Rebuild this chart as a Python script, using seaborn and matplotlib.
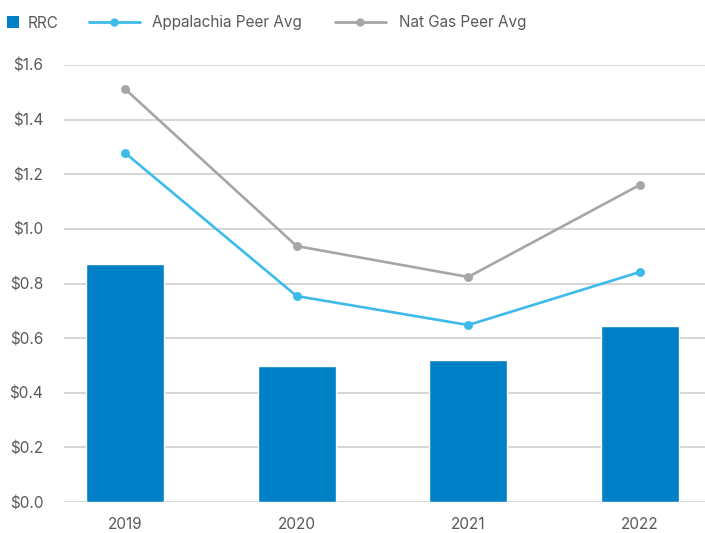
import matplotlib
matplotlib.use("Agg")
import matplotlib.pyplot as plt
import seaborn as sns
import numpy as np
import pandas as pd
from matplotlib.lines import Line2D
from matplotlib.patches import Patch

years = ["2019", "2020", "2021", "2022"]
rrc = [0.871, 0.498, 0.520, 0.644]
appalachia = [1.278, 0.754, 0.648, 0.842]
natgas = [1.512, 0.937, 0.824, 1.161]
yticks = [0.0, 0.2, 0.4, 0.6, 0.8, 1.0, 1.2, 1.4, 1.6]
ytick_labels = ["$0.0", "$0.2", "$0.4", "$0.6", "$0.8", "$1.0", "$1.2", "$1.4", "$1.6"]

C_BAR = "#0080C6"
C_APP = "#3DBBEB"
C_GAS = "#A6A6A6"
C_TXT = "#595959"
C_GRID = "#D0D0D0"

sns.set_theme(style="white")
plt.rcParams["font.family"] = ["Inter", "DejaVu Sans"]

FS_TICK = 11
FS_LEG = 11

fig = plt.figure(figsize=(7.05, 5.33), dpi=100)
ax = fig.add_axes([64 / 705, 1 - 502 / 533, 1 - 64 / 705, (502 - 65) / 533])

df = pd.DataFrame({"year": years, "rrc": rrc, "app": appalachia, "gas": natgas})

sns.barplot(data=df, x="year", y="rrc", color=C_BAR, saturation=1, width=0.455, ax=ax, zorder=2)
sns.pointplot(data=df, x="year", y="gas", color=C_GAS, markers="o", linestyles="-",
              markersize=5, linewidth=1.9, ax=ax, zorder=3)
sns.pointplot(data=df, x="year", y="app", color=C_APP, markers="o", linestyles="-",
              markersize=5, linewidth=1.9, ax=ax, zorder=4)

ax.set_ylim(0, 1.6)
ax.set_xlim(-0.356, 3.38)
ax.set_yticks(yticks)
ax.set_yticklabels(ytick_labels)
ax.set_xlabel("")
ax.set_ylabel("")
for s in ax.spines.values():
    s.set_visible(False)
ax.grid(axis="y", color=C_GRID, linewidth=1.2, zorder=0)
ax.set_axisbelow(True)
ax.tick_params(axis="y", length=0, pad=15, labelsize=FS_TICK, labelcolor=C_TXT)
ax.tick_params(axis="x", length=0, pad=11, labelsize=FS_TICK, labelcolor=C_TXT)
for t in ax.get_yticklabels() + ax.get_xticklabels():
    t.set_clip_on(False)

ly = 1 - 23 / 533
common = dict(frameon=False, fontsize=FS_LEG, labelcolor=C_TXT, borderpad=0, borderaxespad=0,
              loc="center left")
fig.legend(handles=[Patch(facecolor=C_BAR, edgecolor="none")], labels=["RRC"],
           handlelength=0.78, handleheight=0.78, handletextpad=0.59,
           bbox_to_anchor=(7 / 705, ly), **common)
fig.legend(handles=[Line2D([], [], color=C_APP, lw=2.0, marker="o", markersize=5)],
           labels=["Appalachia Peer Avg"], handlelength=3.33, handletextpad=0.8,
           bbox_to_anchor=(89 / 705, ly), **common)
fig.legend(handles=[Line2D([], [], color=C_GAS, lw=2.0, marker="o", markersize=5)],
           labels=["Nat Gas Peer Avg"], handlelength=3.33, handletextpad=0.85,
           bbox_to_anchor=(335 / 705, ly), **common)

fig.savefig("out.png", dpi=100)
